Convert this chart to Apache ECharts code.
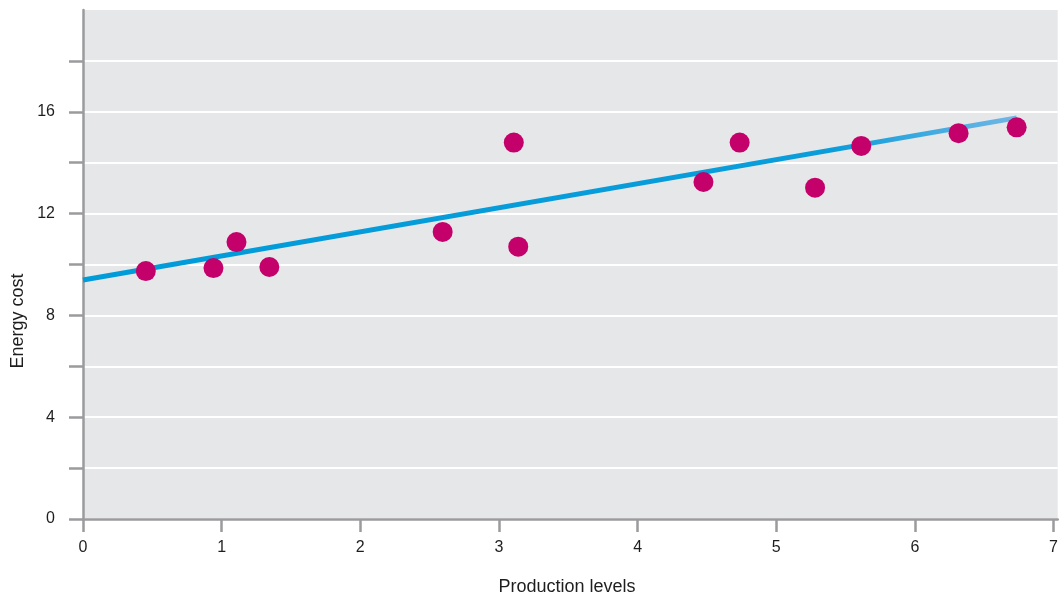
<!DOCTYPE html>
<html>
<head>
<meta charset="utf-8">
<script src="https://cdn.jsdelivr.net/npm/echarts@6/dist/echarts.min.js"></script>
<style>html,body{margin:0;padding:0;background:#fff;overflow:hidden}#c{width:1061px;height:595px}</style>
</head>
<body>
<div id="c"></div>
<script>
const productionLevels = [0.453, 0.941, 1.107, 1.344, 2.594, 3.107, 3.139, 4.475, 4.736, 5.28, 5.613, 6.315, 6.734];
const energyCost = [9.74, 9.86, 10.88, 9.90, 11.28, 14.79, 10.70, 13.24, 14.79, 13.02, 14.66, 15.16, 15.39];
const fitX = [0, 6.734];
const fitY = [9.39, 15.76];
const xTicks = [0, 1, 2, 3, 4, 5, 6, 7];
const yTicks = [0, 2, 4, 6, 8, 10, 12, 14, 16, 18];
const yLabels = [0, 4, 8, 12, 16];

const font = 'Liberation Sans, Arial, sans-serif';
const chart = echarts.init(document.getElementById('c'), null, {renderer: 'canvas'});
chart.setOption({
  animation: false,
  grid: {left: 83, right: 0, top: 10, bottom: 76, show: true, backgroundColor: '#e6e7e9', borderWidth: 0},
  xAxis: {
    type: 'value', min: 0, max: 7.03,
    axisLine: {show: true, lineStyle: {color: '#9a9b9d', width: 2.5}},
    axisTick: {show: true, length: 13, lineStyle: {color: '#9a9b9d', width: 2.5}, customValues: xTicks},
    axisLabel: {show: true, margin: 21, color: '#1e1e1e', fontSize: 16, fontFamily: font, customValues: xTicks},
    splitLine: {show: false}
  },
  yAxis: {
    type: 'value', min: 0, max: 20,
    axisLine: {show: true, lineStyle: {color: '#9a9b9d', width: 2.5}},
    axisTick: {show: true, length: 14, lineStyle: {color: '#9a9b9d', width: 2.5}, customValues: yTicks},
    axisLabel: {show: true, margin: 28, color: '#1e1e1e', fontSize: 16, fontFamily: font, customValues: yLabels},
    splitLine: {show: true, lineStyle: {color: '#ffffff', width: 2}}
  },
  graphic: [
    {type: 'text', x: 18, y: 321, rotation: Math.PI / 2,
     style: {text: 'Energy cost', fill: '#1e1e1e', font: '18px ' + font, align: 'center', verticalAlign: 'middle'}},
    {type: 'text', x: 567, y: 587,
     style: {text: 'Production levels', fill: '#1e1e1e', font: '18px ' + font, align: 'center', verticalAlign: 'middle'}}
  ],
  series: [
    {
      type: 'line',
      data: fitX.map((x, i) => [x, fitY[i]]),
      symbol: 'none',
      lineStyle: {
        width: 5,
        color: new echarts.graphic.LinearGradient(0, 0, 1, 0, [
          {offset: 0, color: '#009bd9'},
          {offset: 0.8, color: '#0a9dda'},
          {offset: 1, color: '#72b7e6'}
        ])
      },
      z: 2
    },
    {
      type: 'scatter',
      data: productionLevels.map((x, i) => [x, energyCost[i]]),
      symbolSize: 20,
      itemStyle: {color: '#c4006a', opacity: 1},
      z: 3
    }
  ]
});
</script>
</body>
</html>
